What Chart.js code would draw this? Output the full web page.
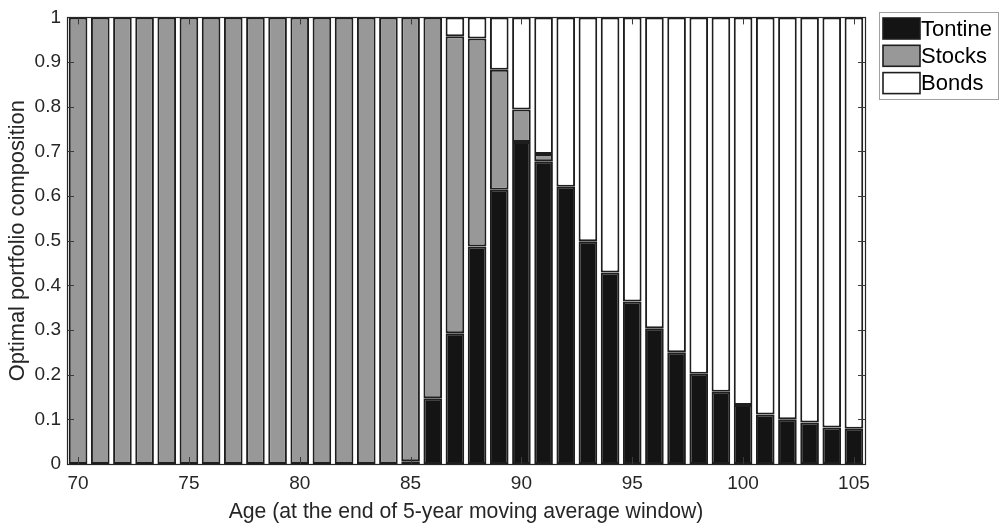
<!DOCTYPE html>
<html>
<head>
<meta charset="utf-8">
<script src="https://cdn.jsdelivr.net/npm/chart.js@4/dist/chart.umd.min.js"></script>
<style>
  html, body { margin: 0; padding: 0; background: #ffffff; }
  #wrap { width: 1001px; height: 527px; }
</style>
</head>
<body>
<div id="wrap"><canvas id="c" width="1001" height="527"></canvas></div>
<script>
// Age at the end of the 5-year moving average window
const ages = [70, 71, 72, 73, 74, 75, 76, 77, 78, 79, 80, 81, 82, 83, 84, 85, 86, 87,
              88, 89, 90, 91, 92, 93, 94, 95, 96, 97, 98, 99, 100, 101, 102, 103, 104, 105];

// Portfolio shares per age
const tontine = [0, 0, 0, 0, 0, 0, 0, 0, 0, 0, 0, 0, 0, 0, 0, 0.006, 0.147, 0.293,
                 0.487, 0.614, 0.721, 0.678, 0.621, 0.499, 0.429, 0.364, 0.304, 0.250,
                 0.202, 0.162, 0.132, 0.111, 0.100, 0.093, 0.082, 0.079];
const stocks  = [1, 1, 1, 1, 1, 1, 1, 1, 1, 1, 1, 1, 1, 1, 1, 0.994, 0.853, 0.665,
                 0.466, 0.269, 0.073, 0.016, 0, 0, 0, 0, 0, 0,
                 0, 0, 0, 0, 0, 0, 0, 0];
const bonds   = [0, 0, 0, 0, 0, 0, 0, 0, 0, 0, 0, 0, 0, 0, 0, 0, 0, 0.042,
                 0.047, 0.117, 0.206, 0.306, 0.379, 0.501, 0.571, 0.636, 0.696, 0.750,
                 0.798, 0.838, 0.868, 0.889, 0.900, 0.907, 0.918, 0.921];

// Axis tick labels
const xTickAges = [70, 75, 80, 85, 90, 95, 100, 105];
const yTicks = [0, 0.1, 0.2, 0.3, 0.4, 0.5, 0.6, 0.7, 0.8, 0.9, 1];

const FONT = 'Arial, "Liberation Sans", Helvetica, sans-serif';
const AXIS_COLOR = '#262626';

// Box around the plot with inward tick marks on all four sides
const axesBox = {
  id: 'axesBox',
  afterDatasetsDraw(chart) {
    const { ctx, chartArea: a, scales } = chart;
    const len = 7;
    ctx.save();
    ctx.strokeStyle = '#3a3a3a';
    ctx.lineWidth = 1;
    ctx.beginPath();
    xTickAges.forEach(age => {
      const x = Math.round(scales.x.getPixelForValue(ages.indexOf(age))) + 0.5;
      ctx.moveTo(x, a.bottom); ctx.lineTo(x, a.bottom - len);
      ctx.moveTo(x, a.top); ctx.lineTo(x, a.top + len);
    });
    yTicks.forEach(v => {
      const y = Math.round(scales.y.getPixelForValue(v)) + 0.5;
      ctx.moveTo(a.left, y); ctx.lineTo(a.left + len, y);
      ctx.moveTo(a.right, y); ctx.lineTo(a.right - len, y);
    });
    ctx.stroke();
    ctx.strokeStyle = AXIS_COLOR;
    ctx.lineWidth = 1.2;
    ctx.strokeRect(Math.round(a.left) + 0.5, Math.round(a.top) + 0.5,
                   Math.round(a.right - a.left), Math.round(a.bottom - a.top));
    ctx.restore();
  }
};

// Boxed legend to the right of the plot
const sideLegend = {
  id: 'sideLegend',
  afterDraw(chart) {
    const { ctx } = chart;
    const x0 = 879.5, y0 = 12.5, w = 119, h = 87;
    ctx.save();
    ctx.fillStyle = '#ffffff';
    ctx.fillRect(x0, y0, w, h);
    ctx.strokeStyle = '#a0a0a0';
    ctx.lineWidth = 1;
    ctx.strokeRect(x0, y0, w, h);
    ctx.font = '22px ' + FONT;
    ctx.textBaseline = 'middle';
    ctx.textAlign = 'left';
    chart.data.datasets.forEach((ds, i) => {
      const sy = 18 + i * 27.3;
      ctx.fillStyle = ds.backgroundColor;
      ctx.fillRect(883, sy, 37, 21);
      ctx.strokeStyle = '#1e1e1e';
      ctx.lineWidth = 1.6;
      ctx.strokeRect(883, sy, 37, 21);
      ctx.fillStyle = '#000000';
      ctx.fillText(ds.label, 921, sy + 11.5);
    });
    ctx.restore();
  }
};

const barStyle = {
  borderColor: '#1e1e1e',
  borderWidth: 2,
  borderSkipped: false,
  inflateAmount: 0,
  barPercentage: 0.84,
  categoryPercentage: 1.0
};

new Chart(document.getElementById('c'), {
  type: 'bar',
  data: {
    labels: ages,
    datasets: [
      Object.assign({ label: 'Tontine', data: tontine, backgroundColor: '#141414' }, barStyle),
      Object.assign({ label: 'Stocks',  data: stocks,  backgroundColor: '#989898' }, barStyle),
      Object.assign({ label: 'Bonds',   data: bonds,   backgroundColor: '#ffffff' }, barStyle)
    ]
  },
  options: {
    responsive: false,
    animation: false,
    devicePixelRatio: 1,
    layout: { padding: { top: 14, right: 136, left: 0, bottom: 0 } },
    plugins: {
      legend: { display: false },
      tooltip: { enabled: false }
    },
    scales: {
      x: {
        stacked: true,
        offset: true,
        grid: { display: false, drawTicks: false },
        border: { display: false },
        ticks: {
          autoSkip: false,
          maxRotation: 0,
          minRotation: 0,
          padding: 8,
          color: AXIS_COLOR,
          font: { family: FONT, size: 19 },
          callback: (v, i) => xTickAges.includes(ages[i]) ? String(ages[i]) : ''
        },
        title: {
          display: true,
          text: 'Age (at the end of 5-year moving average window)',
          color: AXIS_COLOR,
          font: { family: FONT, size: 21.2 },
          padding: { top: 0, bottom: 2 }
        },
        afterFit: s => { s.height = 63; }
      },
      y: {
        stacked: true,
        min: 0,
        max: 1,
        grid: { display: false, drawTicks: false },
        border: { display: false },
        ticks: {
          stepSize: 0.1,
          padding: 6,
          color: AXIS_COLOR,
          font: { family: FONT, size: 19 },
          callback: v => String(Number(v.toFixed(1)))
        },
        title: {
          display: true,
          text: 'Optimal portfolio composition',
          color: AXIS_COLOR,
          font: { family: FONT, size: 21.8 },
          padding: { top: 5, bottom: 0 }
        },
        afterFit: s => { s.width = 67; }
      }
    }
  },
  plugins: [axesBox, sideLegend]
});
</script>
</body>
</html>
